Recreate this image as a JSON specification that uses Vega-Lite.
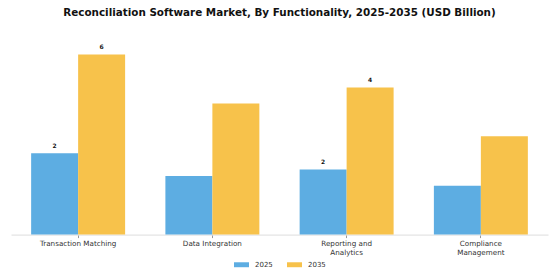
{
  "$schema": "https://vega.github.io/schema/vega-lite/v6.json",
  "width": 537,
  "height": 196.6,
  "autosize": {"type": "none"},
  "padding": {"left": 11, "top": 38, "right": 12, "bottom": 45},
  "background": "white",
  "title": {
    "text": "Reconciliation Software Market, By Functionality, 2025-2035 (USD Billion)",
    "font": "DejaVu Sans",
    "fontSize": 10.4,
    "fontWeight": "bold",
    "color": "#111111",
    "anchor": "middle",
    "offset": 20
  },
  "data": {
    "values": [
      {"functionality": "Transaction Matching", "year": "2025", "value": 2.48},
      {"functionality": "Transaction Matching", "year": "2035", "value": 5.5},
      {"functionality": "Data Integration", "year": "2025", "value": 1.79},
      {"functionality": "Data Integration", "year": "2035", "value": 4.0},
      {"functionality": "Reporting and Analytics", "year": "2025", "value": 1.99},
      {"functionality": "Reporting and Analytics", "year": "2035", "value": 4.49},
      {"functionality": "Compliance Management", "year": "2025", "value": 1.49},
      {"functionality": "Compliance Management", "year": "2035", "value": 3.0}
    ]
  },
  "encoding": {
    "x": {
      "field": "functionality",
      "type": "nominal",
      "sort": null,
      "scale": {"paddingInner": 0.3, "paddingOuter": 0.15},
      "axis": {
        "title": null,
        "labelAngle": 0,
        "labelFont": "DejaVu Sans",
        "labelFontSize": 7.2,
        "labelColor": "#333333",
        "labelPadding": 2,
        "labelLineHeight": 8.7,
        "labelExpr": "datum.value == 'Reporting and Analytics' ? ['Reporting and', 'Analytics'] : datum.value == 'Compliance Management' ? ['Compliance', 'Management'] : datum.value",
        "domainColor": "#dddddd",
        "tickColor": "#999999",
        "tickSize": 3
      }
    },
    "xOffset": {"field": "year", "type": "nominal"},
    "y": {
      "field": "value",
      "type": "quantitative",
      "scale": {"domain": [0, 6], "nice": false},
      "axis": null
    }
  },
  "layer": [
    {
      "mark": {"type": "bar"},
      "encoding": {
        "color": {
          "field": "year",
          "type": "nominal",
          "scale": {"domain": ["2025", "2035"], "range": ["#5DADE2", "#F7C24B"]},
          "legend": {
            "title": null,
            "orient": "none",
            "legendX": 223,
            "legendY": 219,
            "direction": "horizontal",
            "labelFont": "DejaVu Sans",
            "labelFontSize": 7,
            "labelColor": "#333333",
            "symbolType": "M-1,-0.33H1V0.33H-1Z",
            "symbolSize": 225,
            "symbolStrokeWidth": 0,
            "columnPadding": 14,
            "labelOffset": 6
          }
        }
      }
    },
    {
      "transform": [
        {"filter": "datum.functionality == 'Transaction Matching' || datum.functionality == 'Reporting and Analytics'"}
      ],
      "mark": {
        "type": "text",
        "font": "DejaVu Sans",
        "fontSize": 6,
        "fontWeight": "bold",
        "color": "#111111",
        "baseline": "bottom",
        "dy": -4
      },
      "encoding": {
        "text": {"field": "value", "type": "quantitative", "format": ".0f"}
      }
    }
  ],
  "config": {
    "view": {"stroke": null}
  }
}
